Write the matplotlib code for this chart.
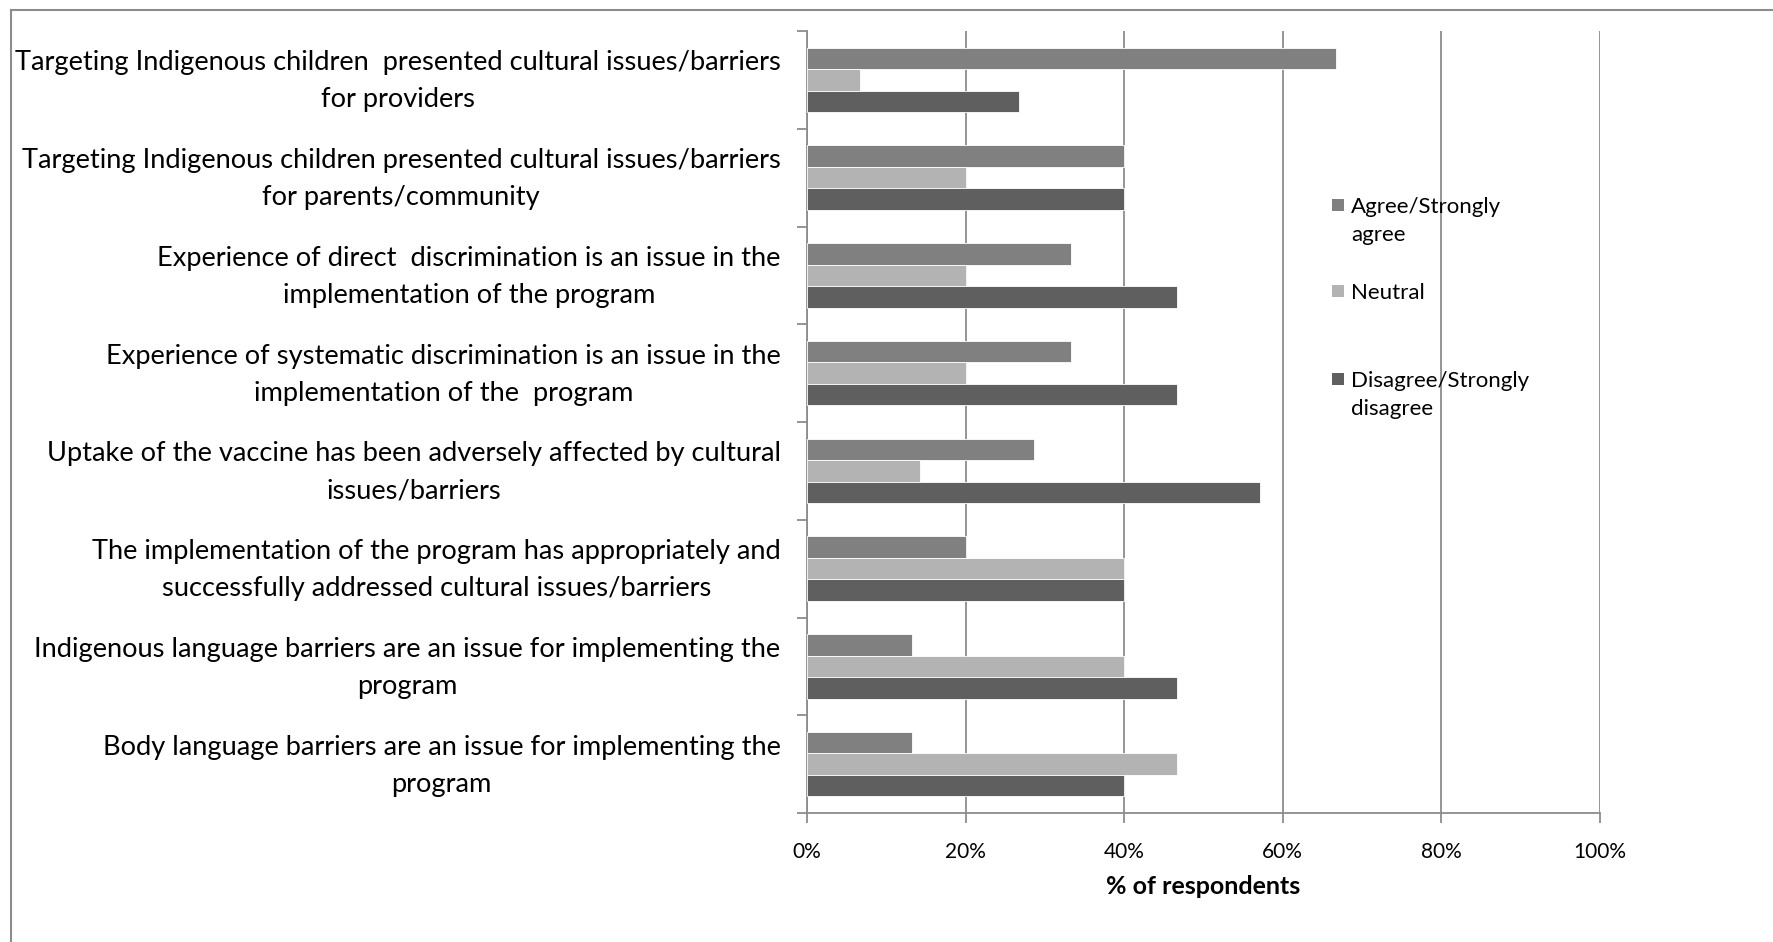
import matplotlib
matplotlib.use("Agg")
import matplotlib.pyplot as plt
from matplotlib.lines import Line2D
from matplotlib.patches import Rectangle
from matplotlib.ticker import FixedLocator, PercentFormatter
from matplotlib.transforms import ScaledTranslation

plt.rcParams['font.family'] = ['Lato', 'DejaVu Sans']

categories = [
    "Targeting Indigenous children  presented cultural issues/barriers\nfor providers",
    "Targeting Indigenous children presented cultural issues/barriers\nfor parents/community",
    "Experience of direct  discrimination is an issue in the\nimplementation of the program",
    "Experience of systematic discrimination is an issue in the\nimplementation of the  program",
    "Uptake of the vaccine has been adversely affected by cultural\nissues/barriers",
    "The implementation of the program has appropriately and\nsuccessfully addressed cultural issues/barriers",
    "Indigenous language barriers are an issue for implementing the\nprogram",
    "Body language barriers are an issue for implementing the\nprogram",
]
series_names = ["Agree/Strongly\nagree", "Neutral", "Disagree/Strongly\ndisagree"]
agree = [66.7, 40.0, 33.3, 33.3, 28.6, 20.0, 13.3, 13.3]
neutral = [6.7, 20.0, 20.0, 20.0, 14.3, 40.0, 40.0, 46.7]
disagree = [26.7, 40.0, 46.7, 46.7, 57.1, 40.0, 46.7, 40.0]
x_ticks = [0, 20, 40, 60, 80, 100]
x_label = "% of respondents"

colors = ["#808080", "#b3b3b3", "#5f5f5f"]
grid_gray = "#8c8c8c"

W, H = 1773, 942
fig = plt.figure(figsize=(W / 100, H / 100), dpi=100)
ax = fig.add_axes([807 / W, 1 - 813 / H, (1600 - 807) / W, (813 - 31) / H])

n = len(categories)
bar_h = 0.22
offsets = [-bar_h, 0.0, bar_h]
for vals, off, col in zip([agree, neutral, disagree], offsets, colors):
    ax.barh([i + off for i in range(n)], vals, height=bar_h, color=col,
            edgecolor="white", linewidth=0.6, zorder=3)

ax.set_xlim(0, 100)
ax.set_ylim(n - 0.5, -0.5)

# vertical gridlines
ax.xaxis.set_major_locator(FixedLocator(x_ticks))
ax.xaxis.set_major_formatter(PercentFormatter(decimals=0))
ax.grid(axis="x", color=grid_gray, linewidth=1.3, zorder=0)
ax.set_axisbelow(True)

# category labels at centres, tick marks at band boundaries
ax.set_yticks(range(n))
ax.set_yticklabels(categories, ha="right", multialignment="center",
                   fontsize=19.6, linespacing=1.6)
ax.yaxis.set_minor_locator(FixedLocator([i - 0.5 for i in range(n + 1)]))
ax.tick_params(axis="y", which="major", length=0, pad=19)
ax.tick_params(axis="y", which="minor", length=7, width=1.3, color=grid_gray, direction="out")
ax.tick_params(axis="x", which="major", length=7, width=1.3, color=grid_gray,
               labelsize=15, pad=14)

# nudge the category labels slightly upward
lift = ScaledTranslation(0, 7 / 100, fig.dpi_scale_trans)
for lab in ax.get_yticklabels():
    lab.set_transform(lab.get_transform() + lift)

for s in ["top", "right"]:
    ax.spines[s].set_visible(False)
for s in ["left", "bottom"]:
    ax.spines[s].set_color(grid_gray)
    ax.spines[s].set_linewidth(1.3)

ax.set_xlabel(x_label, fontsize=18, fontweight="bold", labelpad=9)

# legend drawn as swatches plus labels
leg_rows = [197, 283, 371]
for name, col, yy in zip(series_names, colors, leg_rows):
    fig.patches.append(Rectangle((1332 / W, 1 - (yy + 14) / H), 12 / W, 12 / H,
                                 transform=fig.transFigure, facecolor=col,
                                 edgecolor="none"))
    fig.text(1351 / W, 1 - yy / H, name, ha="left", va="top", fontsize=16,
             linespacing=1.5, transform=fig.transFigure)

# chart frame (left and top edges)
fig.add_artist(Line2D([11 / W, 11 / W], [0, 1 - 10 / H], transform=fig.transFigure,
                      color="#8c8c8c", linewidth=1.5))
fig.add_artist(Line2D([11 / W, 1], [1 - 10 / H, 1 - 10 / H], transform=fig.transFigure,
                      color="#8c8c8c", linewidth=1.5))

fig.savefig("out.png", dpi=100, facecolor="white")
